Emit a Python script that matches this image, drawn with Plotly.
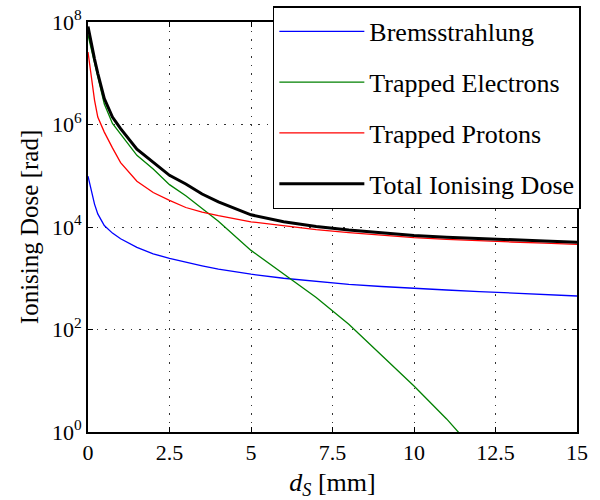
import plotly.graph_objects as go

# Shielding thickness d_S [mm]
d_mm = [0, 0.1, 0.2, 0.3, 0.5, 0.75, 1, 1.5, 2, 2.5, 3, 3.5, 4, 5, 6, 7, 8, 9, 10, 11, 12, 13, 14, 15]

# Ionising dose [rad]
bremsstrahlung = [9.8e4, 5.0e4, 2.8e4, 1.8e4, 1.07e4, 7.6e3, 5.9e3, 4.0e3, 3.0e3, 2.45e3, 2.05e3, 1.75e3,
                  1.5e3, 1.2e3, 1.0e3, 870, 760, 690, 630, 590, 550, 510, 480, 450]
trapped_electrons = [5.6e7, 2.8e7, 1.6e7, 8.6e6, 2.5e6, 1.05e6, 6.5e5, 2.5e5, 1.36e5, 6.7e4, 4.07e4, 2.3e4,
                     1.3e4, 3.5e3, 1.2e3, 420, 126, 32, 7.9, 1.8, 0.35, 0.063, 0.0126, 0.0025]
trapped_protons = [2.6e7, 8.0e6, 3.0e6, 1.4e6, 7.1e5, 3.5e5, 1.8e5, 7.8e4, 4.7e4, 3.3e4, 2.4e4, 1.95e4,
                   1.66e4, 1.26e4, 1.05e4, 8.9e3, 7.8e3, 6.9e3, 6.2e3, 5.75e3, 5.5e3, 5.1e3, 4.85e3, 4.6e3]
total_dose = [8.2e7, 3.6e7, 1.9e7, 1.0e7, 3.2e6, 1.4e6, 8.3e5, 3.3e5, 1.86e5, 1.02e5, 6.9e4, 4.4e4,
              3.1e4, 1.73e4, 1.27e4, 1.02e4, 8.7e3, 7.6e3, 6.84e3, 6.34e3, 6.05e3, 5.6e3, 5.33e3, 5.05e3]

series_names = ["Bremsstrahlung", "Trapped Electrons", "Trapped Protons", "Total Ionising Dose"]
series_colors = ["#0000ff", "#008000", "#ff0000", "#000000"]
series_widths = [1.3, 1.3, 1.3, 3]

x_tick_vals = [0, 2.5, 5, 7.5, 10, 12.5, 15]
x_tick_text = ["0", "2.5", "5", "7.5", "10", "12.5", "15"]
y_tick_vals = [1, 1e2, 1e4, 1e6, 1e8]
y_tick_text = ["10<sup>0</sup>", "10<sup>2</sup>", "10<sup>4</sup>", "10<sup>6</sup>", "10<sup>8</sup>"]

FONT = "Liberation Serif"

fig = go.Figure()
for name, ys, col, w in zip(series_names,
                            [bremsstrahlung, trapped_electrons, trapped_protons, total_dose],
                            series_colors, series_widths):
    fig.add_trace(go.Scatter(x=d_mm, y=ys, mode="lines", name=name, legendgroup=name,
                             line=dict(color=col, width=w)))

axis_common = dict(showline=True, linecolor="black", linewidth=2, mirror="ticks",
                   ticks="inside", ticklen=5, tickwidth=1, tickcolor="black",
                   showgrid=True, gridcolor="#333333", gridwidth=1, griddash="1.5px,7px",
                   zeroline=False, tickfont=dict(family=FONT, size=22, color="black"))

fig.update_xaxes(range=[0, 15], tickvals=x_tick_vals, ticktext=x_tick_text,
                 title=dict(text="<i>d<sub>S</sub></i> [mm]", font=dict(family=FONT, size=26, color="black"),
                            standoff=8),
                 **axis_common)
fig.update_yaxes(type="log", range=[0, 8], tickvals=y_tick_vals, ticktext=y_tick_text,
                 title=dict(text="Ionising Dose [rad]", font=dict(family=FONT, size=25, color="black"),
                            standoff=6),
                 **axis_common)

fig.update_layout(
    width=600, height=500,
    margin=dict(l=88, r=23, t=22, b=68, autoexpand=False),
    paper_bgcolor="white", plot_bgcolor="white",
    font=dict(family=FONT, size=22, color="black"),
    legend=dict(x=0.378, y=1.038, xanchor="left", yanchor="top",
                bgcolor="white", bordercolor="black", borderwidth=1.5,
                font=dict(family=FONT, size=26, color="black"),
                tracegroupgap=14, itemwidth=85,
                entrywidth=310, entrywidthmode="pixels"),
    showlegend=True,
)

fig.write_html("out.html")
